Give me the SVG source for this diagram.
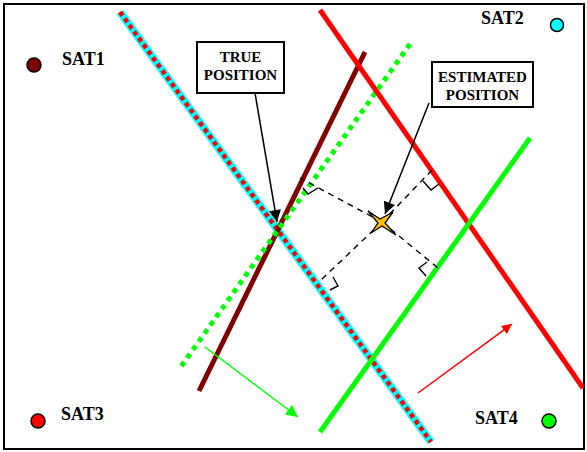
<svg xmlns="http://www.w3.org/2000/svg" width="587" height="452" viewBox="0 0 587 452">
<defs>
<style>
.lbl{font-family:"Liberation Serif","Times New Roman",serif;font-weight:bold;fill:#000}
.sat{font-size:18px}
.box{fill:#fff;stroke:#000;stroke-width:2}
.boxt{font-size:15px;text-anchor:middle}
.dash{stroke:#000;stroke-width:1.4;stroke-dasharray:6 5;fill:none}
.mark{stroke:#000;stroke-width:1.4;fill:none}
.ptr{stroke:#000;stroke-width:1.5;fill:none}
</style>
<marker id="hb" viewBox="0 0 10 10" refX="10" refY="5" markerWidth="10" markerHeight="10" markerUnits="userSpaceOnUse" orient="auto"><path d="M0,0 L10,5 L0,10 Z" fill="#000"/></marker>
<marker id="hg" viewBox="0 0 10 10" refX="10" refY="5" markerWidth="14" markerHeight="12" markerUnits="userSpaceOnUse" orient="auto"><path d="M0,0 L10,5 L0,10 Z" fill="#00FF00"/></marker>
<marker id="hr" viewBox="0 0 10 10" refX="10" refY="5" markerWidth="12" markerHeight="10" markerUnits="userSpaceOnUse" orient="auto"><path d="M0,0 L10,5 L0,10 Z" fill="#FF0000"/></marker>
<marker id="hk" viewBox="0 0 10 10" refX="10" refY="5" markerWidth="16" markerHeight="12" markerUnits="userSpaceOnUse" orient="auto"><path d="M0,0 L10,5 L0,10 Z" fill="#000"/></marker>
</defs>
<rect x="0" y="0" width="587" height="452" fill="#fff"/>
<rect x="4" y="4" width="580" height="445" fill="none" stroke="#000" stroke-width="2"/>

<g id="connectors">
<!-- ranging lines -->
<line x1="120" y1="12" x2="431" y2="442" stroke="#00FFFF" stroke-width="8"/>
<line x1="120" y1="12" x2="431" y2="442" stroke="#FF0000" stroke-width="4.5" stroke-dasharray="4.5 3.5"/>
<line x1="365" y1="52" x2="199" y2="391" stroke="#800000" stroke-width="5"/>
<line x1="410" y1="44" x2="180" y2="368" stroke="#00FF00" stroke-width="5" stroke-dasharray="5 5"/>
<line x1="320" y1="10" x2="583" y2="388" stroke="#FF0000" stroke-width="5"/>
<line x1="530" y1="138" x2="320" y2="432" stroke="#00FF00" stroke-width="5"/>
<!-- motion arrows -->
<line x1="205" y1="347" x2="298" y2="417" stroke="#00FF00" stroke-width="1.5" marker-end="url(#hg)"/>
<line x1="418" y1="393" x2="512" y2="324" stroke="#FF0000" stroke-width="1.5" marker-end="url(#hr)"/>
<!-- perpendiculars -->
<line class="dash" x1="382" y1="222" x2="300" y2="178"/>
<line class="dash" x1="382" y1="222" x2="321" y2="280"/>
<line class="dash" x1="382" y1="222" x2="433" y2="169"/>
<line class="dash" x1="382" y1="222" x2="438" y2="268"/>
<polyline class="mark" points="303,188 308,194 318,188"/>
<polyline class="mark" points="333,277 338,286 330,290"/>
<polyline class="mark" points="423,181 431,190 439,184"/>
<polyline class="mark" points="427,262 419,268 426,276"/>
<!-- label pointers -->
<line class="ptr" x1="255" y1="93" x2="277" y2="222" marker-end="url(#hk)"/>
<line class="ptr" x1="429" y1="103" x2="385" y2="214" marker-end="url(#hk)"/>
</g>

<g id="estimated-star">
<path d="M368,211 L380,219 L393,212 L385,223 L396,235 L382,226 L371,233 L378,223 Z" fill="#FFC000" stroke="#000" stroke-width="1.3"/>
</g>

<g id="true-position">
<rect class="box" x="197" y="42" width="87" height="51"/>
<text class="lbl boxt" x="240.5" y="62">TRUE</text>
<text class="lbl boxt" x="240.5" y="80">POSITION</text>
</g>

<g id="estimated-position">
<rect class="box" x="432" y="62" width="101" height="45"/>
<text class="lbl boxt" x="482.5" y="82">ESTIMATED</text>
<text class="lbl boxt" x="482.5" y="100">POSITION</text>
</g>

<g id="sat1">
<circle cx="34" cy="65" r="7" fill="#800000" stroke="#000" stroke-width="1.5"/>
<text class="lbl sat" x="62" y="65">SAT1</text>
</g>
<g id="sat2">
<text class="lbl sat" x="481" y="24">SAT2</text>
<circle cx="557" cy="25" r="6.5" fill="#00FFFF" stroke="#000" stroke-width="1.5"/>
</g>
<g id="sat3">
<circle cx="38" cy="421" r="7" fill="#FF0000" stroke="#000" stroke-width="1.5"/>
<text class="lbl sat" x="61" y="420">SAT3</text>
</g>
<g id="sat4">
<text class="lbl sat" x="475" y="424">SAT4</text>
<circle cx="549" cy="421" r="7" fill="#00FF00" stroke="#000" stroke-width="1.5"/>
</g>
</svg>
